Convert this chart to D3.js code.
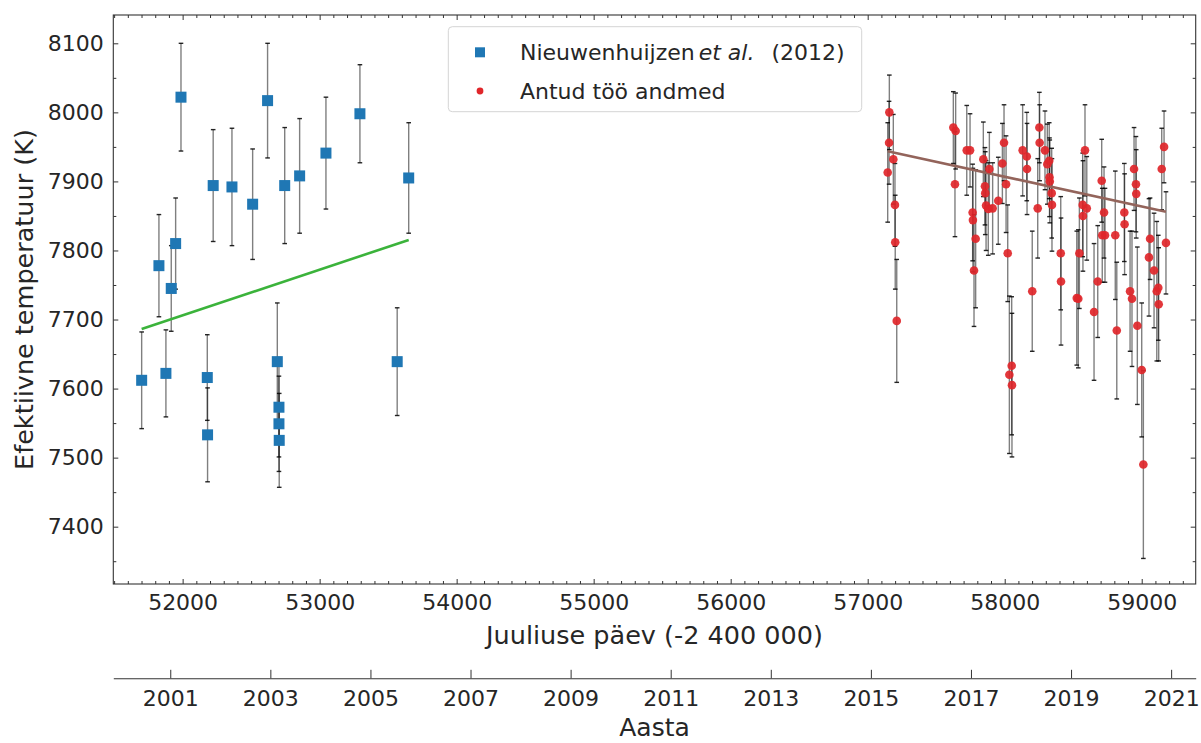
<!DOCTYPE html>
<html>
<head>
<meta charset="utf-8">
<script src="https://cdn.jsdelivr.net/npm/d3@7"></script>
<style>
  html, body { margin: 0; padding: 0; background: #fff; }
  svg { display: block; font-family: "DejaVu Sans", sans-serif; }
</style>
</head>
<body>
<svg id="chart" width="1201" height="743"></svg>
<script>
// ---- Nieuwenhuijzen et al. (2012): JD - 2 400 000, Teff (K), 1-sigma error (K)
const nieuJD   = [51701, 51827, 51878, 51917, 51949, 51988, 52180, 52182, 52223, 52360, 52511,
                  52620, 52691, 52703, 52703, 52705, 52745, 52854, 53046, 53294, 53566, 53650];
const nieuTeff = [7612, 7778, 7622, 7745, 7810, 8022, 7616, 7533, 7894, 7892, 7867,
                  8017, 7639, 7573, 7549, 7525, 7894, 7908, 7941, 7998, 7639, 7905];
const nieuErr  = [70, 74, 63, 62, 66, 78, 62, 68, 81, 85, 80,
                  83, 85, 72, 69, 68, 84, 83, 81, 71, 78, 80];

// ---- This work
const ownJD = [57158, 57156, 57187, 57146, 57199, 57201, 57212,
               57625, 57642, 57637,
               57723, 57747, 57766, 57768, 57788, 57776,
               57844, 57888, 57856, 57858, 57864, 57880, 57912, 57953, 57995, 57983, 58010, 58022, 58051, 58034, 58053,
               58131, 58161, 58163, 58201, 58253, 58255, 58241, 58294, 58311, 58325, 58327, 58329, 58343, 58345,
               58409, 58411, 58526, 58537, 58545, 58569, 58571, 58586, 58599, 58652, 58679,
               58708, 58725, 58712, 58732, 58807, 58818, 58873, 58875, 58915, 58929, 58944, 58958, 58960, 58968,
               59000, 59012, 59061, 59053, 59090, 59110, 59121, 59124, 59146, 59163, 59177];
const ownTeff = [8000, 7956, 7932, 7913, 7866, 7812, 7698,
                 7978, 7973, 7896,
                 7945, 7945, 7855, 7844, 7817, 7771,
                 7932, 7918, 7893, 7883, 7865, 7860, 7861, 7872, 7956, 7926, 7896, 7796, 7633, 7620, 7605,
                 7945, 7936, 7918, 7741, 7978, 7956, 7861, 7945, 7925, 7930, 7906, 7900, 7883, 7866,
                 7796, 7755, 7731, 7730, 7796, 7866, 7850, 7945, 7861, 7711, 7755,
                 7901, 7855, 7822, 7822, 7822, 7684, 7855, 7838, 7741, 7730, 7918, 7896, 7882, 7691,
                 7627, 7490, 7817, 7790, 7771, 7741, 7746, 7722, 7918, 7950, 7811];
const ownErr = [54, 60, 65, 72, 60, 68, 89,
                52, 55, 76,
                65, 53, 70, 75, 100, 81,
                54, 53, 56, 60, 65, 67, 66, 63, 55, 58, 70, 70, 100, 114, 104,
                66, 64, 66, 87, 51, 55, 72, 57, 58, 55, 57, 60, 65, 67,
                82, 92, 97, 100, 80, 75, 80, 66, 75, 99, 81,
                60, 66, 68, 68, 93, 99, 71, 73, 87, 98, 60, 69, 64, 114,
                97, 136, 59, 85, 83, 101, 76, 82, 59, 52, 74];

// ---- Linear fits: [Teff at reference JD, slope K/day, reference JD]
const nieuFit = [7706, 0.0662, 52000];
const ownFit  = [7906.8, -0.04307, 58000];

// ---- Tick labels
const jdTicks   = [52000, 53000, 54000, 55000, 56000, 57000, 58000, 59000];
const teffTicks = [7400, 7500, 7600, 7700, 7800, 7900, 8000, 8100];
const yearTicks = [2001, 2003, 2005, 2007, 2009, 2011, 2013, 2015, 2017, 2019, 2021];

// ---- Layout
const L = 113.3, R = 1195.7, T = 15, B = 584;
const yearAxisY = 678.3;
const textColor = "#262626";
const frameColor = "#333";

const svg = d3.select("#chart");
svg.append("rect").attr("width", 1201).attr("height", 743).attr("fill", "#fff");

const x = d3.scaleLinear().domain([51494, 59394]).range([L, R]);
const y = d3.scaleLinear().domain([7317, 8141]).range([B, T]);

// JD (-2 400 000) to calendar year
const jdToYear = jd => 2000 + (jd - 51544.5) / 365.25;
const xYear = d3.scaleLinear().domain(x.domain().map(jdToYear)).range([L, R]);

// minor tick values
const jdMinor = d3.range(51500, 59400, 100).filter(v => v % 1000 !== 0);
const teffMinor = d3.range(7350, 8141, 50).filter(v => v % 100 !== 0);

function styleAxis(g, fontSize) {
  g.select(".domain").remove();
  g.selectAll(".tick line").attr("stroke", frameColor).attr("stroke-width", 1);
  g.selectAll(".tick text").attr("fill", textColor)
    .attr("font-size", fontSize).attr("font-family", "DejaVu Sans, sans-serif");
}

// bottom axis (major + minor), inward ticks
svg.append("g").attr("transform", `translate(0,${B})`)
  .call(d3.axisBottom(x).tickValues(jdTicks).tickFormat(d3.format("d")).tickSize(-5).tickPadding(10.5))
  .call(g => styleAxis(g, 22));
svg.append("g").attr("transform", `translate(0,${B})`)
  .call(d3.axisBottom(x).tickValues(jdMinor).tickFormat("").tickSize(-3))
  .call(g => styleAxis(g, 22));
// top axis
svg.append("g").attr("transform", `translate(0,${T})`)
  .call(d3.axisTop(x).tickValues(jdTicks).tickFormat("").tickSize(-5))
  .call(g => styleAxis(g, 22));
svg.append("g").attr("transform", `translate(0,${T})`)
  .call(d3.axisTop(x).tickValues(jdMinor).tickFormat("").tickSize(-3))
  .call(g => styleAxis(g, 22));
// left axis
svg.append("g").attr("transform", `translate(${L},0)`)
  .call(d3.axisLeft(y).tickValues(teffTicks).tickFormat(d3.format("d")).tickSize(-5).tickPadding(9.5))
  .call(g => styleAxis(g, 22));
svg.append("g").attr("transform", `translate(${L},0)`)
  .call(d3.axisLeft(y).tickValues(teffMinor).tickFormat("").tickSize(-3))
  .call(g => styleAxis(g, 22));
// right axis
svg.append("g").attr("transform", `translate(${R},0)`)
  .call(d3.axisRight(y).tickValues(teffTicks).tickFormat("").tickSize(-5))
  .call(g => styleAxis(g, 22));
svg.append("g").attr("transform", `translate(${R},0)`)
  .call(d3.axisRight(y).tickValues(teffMinor).tickFormat("").tickSize(-3))
  .call(g => styleAxis(g, 22));

// frame
svg.append("rect").attr("x", L).attr("y", T).attr("width", R - L).attr("height", B - T)
  .attr("fill", "none").attr("stroke", frameColor).attr("stroke-width", 1.1);

// calendar-year axis
const gYear = svg.append("g").attr("transform", `translate(0,${yearAxisY})`)
  .call(d3.axisBottom(xYear).tickValues(yearTicks).tickFormat(d3.format("d"))
        .tickSize(-8.5).tickSizeOuter(0).tickPadding(12));
gYear.select(".domain").attr("stroke", frameColor).attr("stroke-width", 1.1);
gYear.selectAll(".tick line").attr("stroke", frameColor).attr("stroke-width", 1);
gYear.selectAll(".tick text").attr("fill", textColor).attr("font-size", 22)
  .attr("font-family", "DejaVu Sans, sans-serif");

// axis titles
svg.append("text").attr("x", (L + R) / 2).attr("y", 644).attr("text-anchor", "middle")
  .attr("font-size", 25.5).attr("fill", textColor).text("Juuliuse päev (-2 400 000)");
svg.append("text").attr("x", (L + R) / 2).attr("y", 736).attr("text-anchor", "middle")
  .attr("font-size", 25).attr("fill", textColor).text("Aasta");
svg.append("text").attr("transform", `translate(33,${(T + B) / 2}) rotate(-90)`)
  .attr("text-anchor", "middle").attr("font-size", 25.5).attr("fill", textColor)
  .text("Efektiivne temperatuur (K)");

// ---- data layers
const plot = svg.append("g");
const capHalf = 2.3;

function errorBars(jd, teff, err) {
  const g = plot.append("g");
  const idx = d3.range(jd.length);
  g.selectAll("line.bar").data(idx).join("line").attr("class", "bar")
    .attr("x1", i => x(jd[i])).attr("x2", i => x(jd[i]))
    .attr("y1", i => y(teff[i] - err[i])).attr("y2", i => y(teff[i] + err[i]))
    .attr("stroke", "#000").attr("stroke-opacity", 0.5).attr("stroke-width", 1.4);
  ["lo", "hi"].forEach(side => {
    g.selectAll("line.cap-" + side).data(idx).join("line").attr("class", "cap-" + side)
      .attr("x1", i => x(jd[i]) - capHalf).attr("x2", i => x(jd[i]) + capHalf)
      .attr("y1", i => y(side === "lo" ? teff[i] - err[i] : teff[i] + err[i]))
      .attr("y2", i => y(side === "lo" ? teff[i] - err[i] : teff[i] + err[i]))
      .attr("stroke", "#000").attr("stroke-opacity", 0.85).attr("stroke-width", 1.4);
  });
}

function fitLine(fit, jd, color) {
  const ext = d3.extent(jd);
  const f = v => fit[0] + fit[1] * (v - fit[2]);
  plot.append("path")
    .attr("d", d3.line().x(v => x(v)).y(v => y(f(v)))(ext))
    .attr("stroke", color).attr("stroke-width", 2.6).attr("fill", "none");
}

errorBars(nieuJD, nieuTeff, nieuErr);
errorBars(ownJD, ownTeff, ownErr);
fitLine(nieuFit, nieuJD, "#3bb33b");
fitLine(ownFit, ownJD, "#93645b");

const sq = 11;
plot.append("g").selectAll("rect").data(d3.range(nieuJD.length)).join("rect")
  .attr("x", i => x(nieuJD[i]) - sq / 2).attr("y", i => y(nieuTeff[i]) - sq / 2)
  .attr("width", sq).attr("height", sq).attr("fill", "#1f77b4");
plot.append("g").selectAll("circle").data(d3.range(ownJD.length)).join("circle")
  .attr("cx", i => x(ownJD[i])).attr("cy", i => y(ownTeff[i])).attr("r", 4.3)
  .attr("fill", "#e0262a").attr("fill-opacity", 0.92);

// ---- legend
const lg = svg.append("g");
lg.append("rect").attr("x", 448.3).attr("y", 26.7).attr("width", 413.4).attr("height", 85)
  .attr("rx", 4).attr("fill", "#fff").attr("fill-opacity", 0.85)
  .attr("stroke", "#d4d4d4").attr("stroke-width", 1);
lg.append("rect").attr("x", 480 - 5).attr("y", 52.3 - 5).attr("width", 10).attr("height", 10)
  .attr("fill", "#1f77b4");
lg.append("circle").attr("cx", 480).attr("cy", 91).attr("r", 3.4).attr("fill", "#e0262a");
const t1 = lg.append("text").attr("x", 520).attr("y", 60.3).attr("font-size", 22).attr("fill", textColor);
t1.append("tspan").text("Nieuwenhuijzen");
t1.append("tspan").attr("font-style", "italic").attr("dx", 4).text("et");
t1.append("tspan").attr("font-style", "italic").attr("dx", 7).text("al.");
t1.append("tspan").attr("dx", 17).text("(2012)");
lg.append("text").attr("x", 520).attr("y", 99).attr("font-size", 22).attr("fill", textColor)
  .text("Antud töö andmed");
</script>
</body>
</html>
